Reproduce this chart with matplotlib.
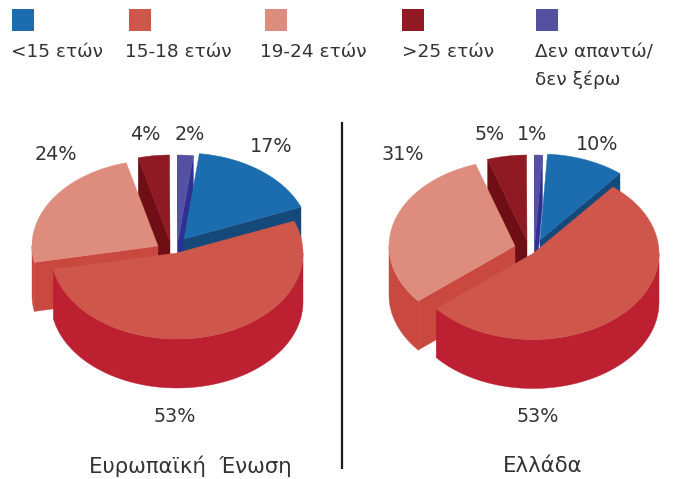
import numpy as np
import matplotlib
matplotlib.use("Agg")
import matplotlib.pyplot as plt
from matplotlib.patches import Polygon, Rectangle

categories = ["<15 ετών", "15-18 ετών", "19-24 ετών", ">25 ετών", "Δεν απαντώ/\nδεν ξέρω"]
eu_values = [17, 53, 24, 4, 2]
gr_values = [10, 53, 31, 5, 1]
eu_labels = ["17%", "53%", "24%", "4%", "2%"]
gr_labels = ["10%", "53%", "31%", "5%", "1%"]
eu_title = "Ευρωπαϊκή  Ένωση"
gr_title = "Ελλάδα"

top_colors = ["#1C6DAF", "#CE564B", "#DE8C7E", "#8F1A24", "#5650A0"]
wall_colors = ["#14497A", "#BC2031", "#C9483F", "#6F0E14", "#2E3192"]
TEXT = "#333333"
FONT = "DejaVu Sans"
FS_LEGEND = 13.3
FS_PCT = 13.8
FS_TITLE = 15.3

RX, RY_, DEPTH = 126, 86, 49
W, H = 681, 479
fig = plt.figure(figsize=(W / 100, H / 100), dpi=100)
ax = fig.add_axes([0, 0, 1, 1])
ax.set_xlim(0, W)
ax.set_ylim(H, 0)
ax.axis("off")


def rim(theta, cx, cy):
    return np.column_stack([cx + RX * np.sin(theta), cy - RY_ * np.cos(theta)])


def add(pts, color, z):
    ax.add_patch(Polygon(pts, closed=True, facecolor=color, edgecolor=color, linewidth=0.3, zorder=z))


def pie3d(values, centre, start_deg, offsets, base_z):
    spans = np.deg2rad(np.array(values) * 3.6)
    starts = np.deg2rad(start_deg) + np.concatenate([[0], np.cumsum(spans)[:-1]])
    draw_order = [4, 3, 0, 2, 1]
    for rank, i in enumerate(draw_order):
        a0, a1 = starts[i], starts[i] + spans[i]
        cx, cy = centre[0] + offsets[i][0], centre[1] + offsets[i][1]
        z = base_z + rank
        down = np.array([0, DEPTH])
        apex = np.array([cx, cy])
        for ang, visible in ((a0, np.sin(a0) < 0), (a1, np.sin(a1) > 0)):
            if visible:
                p = rim(np.array([ang]), cx, cy)[0]
                add([apex, p, p + down, apex + down], wall_colors[i], z)
        lo, hi = max(a0, np.pi / 2), min(a1, 3 * np.pi / 2)
        if hi > lo:
            t = np.linspace(lo, hi, 120)
            arc = rim(t, cx, cy)
            add(np.vstack([arc, arc[::-1] + down]), wall_colors[i], z)
        t = np.linspace(a0, a1, 160)
        add(np.vstack([apex, rim(t, cx, cy)]), top_colors[i], z + 0.5)


pie3d(eu_values, (177, 253), 7.0,
      [(7, -14), (0, 0), (-19, -7), (-7, -12), (1, -12)], 2)
pie3d(gr_values, (533, 253.5), 3.4,
      [(7, -13.5), (0, 0), (-18, -7.5), (-6, -12.5), (2, -12.5)], 2)

# legend
swatch_x = [12, 129, 265, 402, 536]
label_x = [11, 125, 260, 402, 535]
for sx, lx, cat, col in zip(swatch_x, label_x, categories, top_colors):
    ax.add_patch(Rectangle((sx, 9), 22, 22, facecolor=col, edgecolor="none"))
    for n, line in enumerate(cat.split("\n")):
        ax.text(lx, 57 + 28 * n, line, fontsize=FS_LEGEND, family=FONT, color=TEXT, va="baseline", ha="left")

# percent labels
eu_pos = [(271, 146), (175, 416), (56, 155), (145, 134), (190, 134)]
gr_pos = [(597, 145), (538, 416), (403, 155), (490, 134), (532, 134)]
for lab, pos in zip(eu_labels, eu_pos):
    ax.text(*pos, lab, fontsize=FS_PCT, family=FONT, color=TEXT, ha="center", va="center")
for lab, pos in zip(gr_labels, gr_pos):
    ax.text(*pos, lab, fontsize=FS_PCT, family=FONT, color=TEXT, ha="center", va="center")

ax.text(190, 466, eu_title, fontsize=FS_TITLE, family=FONT, color=TEXT, ha="center", va="center")
ax.text(543, 466, gr_title, fontsize=FS_TITLE, family=FONT, color=TEXT, ha="center", va="center")

ax.plot([342, 342], [122, 469], color="#1A1A1A", lw=1.6, solid_capstyle="butt", zorder=20)

fig.savefig("out.png", dpi=100)
